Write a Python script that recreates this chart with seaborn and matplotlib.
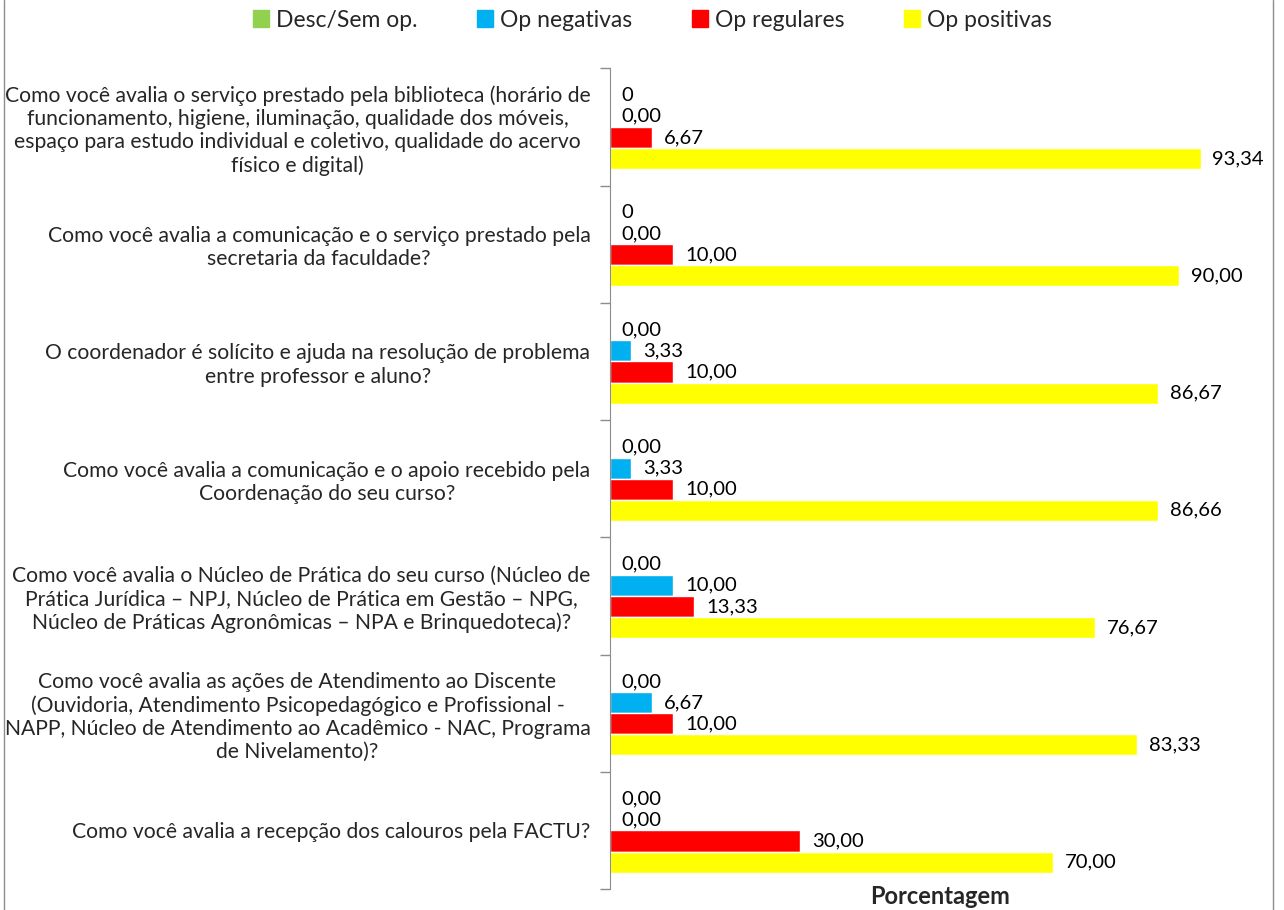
import pandas as pd
import matplotlib.pyplot as plt
import seaborn as sns
from matplotlib.lines import Line2D

# data
perguntas = [
    "Como você avalia o serviço prestado pela biblioteca (horário de\nfuncionamento, higiene, iluminação, qualidade dos móveis,\nespaço para estudo individual e coletivo, qualidade do acervo\nfísico e digital)",
    "Como você avalia a comunicação e o serviço prestado pela\nsecretaria da faculdade?",
    "O coordenador é solícito e ajuda na resolução de problema\nentre professor e aluno?",
    "Como você avalia a comunicação e o apoio recebido pela\nCoordenação do seu curso?",
    "Como você avalia o Núcleo de Prática do seu curso (Núcleo de\nPrática Jurídica – NPJ, Núcleo de Prática em Gestão – NPG,\nNúcleo de Práticas Agronômicas – NPA e Brinquedoteca)?",
    "Como você avalia as ações de Atendimento ao Discente\n(Ouvidoria, Atendimento Psicopedagógico e Profissional -\nNAPP, Núcleo de Atendimento ao Acadêmico - NAC, Programa\nde Nivelamento)?",
    "Como você avalia a recepção dos calouros pela FACTU?",
]
series = ["Desc/Sem op.", "Op negativas", "Op regulares", "Op positivas"]
desc = [0, 0, 0, 0, 0, 0, 0]
neg = [0, 0, 3.33, 3.33, 10.00, 6.67, 0]
reg = [6.67, 10.00, 10.00, 10.00, 13.33, 10.00, 30.00]
pos = [93.34, 90.00, 86.67, 86.66, 76.67, 83.33, 70.00]
desc_labels = ["0", "0", "0,00", "0,00", "0,00", "0,00", "0,00"]

cores = ["#92D050", "#00B0F0", "#FF0000", "#FFFF00"]

rows = []
for s, vals in zip(series, [desc, neg, reg, pos]):
    for p, v in zip(perguntas, vals):
        rows.append({"pergunta": p, "serie": s, "valor": v})
df = pd.DataFrame(rows)

sns.set_style("white")
plt.rcParams["font.family"] = ["Lato", "DejaVu Sans"]

fig = plt.figure(figsize=(12.84, 9.10), dpi=100)
ax = fig.add_axes([0.475, 0.023, 0.514, 0.902])

sns.barplot(data=df, x="valor", y="pergunta", hue="serie", hue_order=series,
            palette=cores, orient="h", width=0.72, saturation=1, ax=ax,
            legend=False, errorbar=None)

# value labels
for i, cont in enumerate(ax.containers):
    if i == 0:
        labs = desc_labels
    else:
        labs = [f"{v:.2f}".replace(".", ",") for v in cont.datavalues]
    ax.bar_label(cont, labels=labs, padding=8.6, fontsize=14.6, color="black")

ax.set_xlim(0, 104.3)
ax.set_ylim(len(perguntas) - 0.5, -0.5)
ax.set_xticks([])
ax.set_xlabel("Porcentagem", fontsize=17, fontweight="bold", labelpad=-3)
ax.set_ylabel("")

ax.set_yticks(range(len(perguntas)))
ax.set_yticklabels(perguntas, fontsize=15.2, multialignment="center")
ax.set_yticks([i - 0.5 for i in range(len(perguntas) + 1)], minor=True)
ax.tick_params(axis="y", which="major", left=False, length=0, pad=14)
ax.tick_params(axis="y", which="minor", left=True, length=7, color="#8c8c8c", width=1)

for s in ["top", "right", "bottom"]:
    ax.spines[s].set_visible(False)
ax.spines["left"].set_color("#8c8c8c")

# legend
handles = [plt.Rectangle((0, 0), 1, 1, color=c) for c in cores]
fig.legend(handles, series, loc="center", bbox_to_anchor=(0.508, 0.978), ncol=4,
           frameon=False, fontsize=16.5, handlelength=0.7, handleheight=0.7,
           handletextpad=0.3, columnspacing=2.6)

# outer chart frame
fig.add_artist(Line2D([4 / 1284, 4 / 1284], [0, 1], color="#8c8c8c", lw=1))
fig.add_artist(Line2D([1273 / 1284, 1273 / 1284], [0, 1], color="#8c8c8c", lw=1))

fig.savefig("out.png", dpi=100)
